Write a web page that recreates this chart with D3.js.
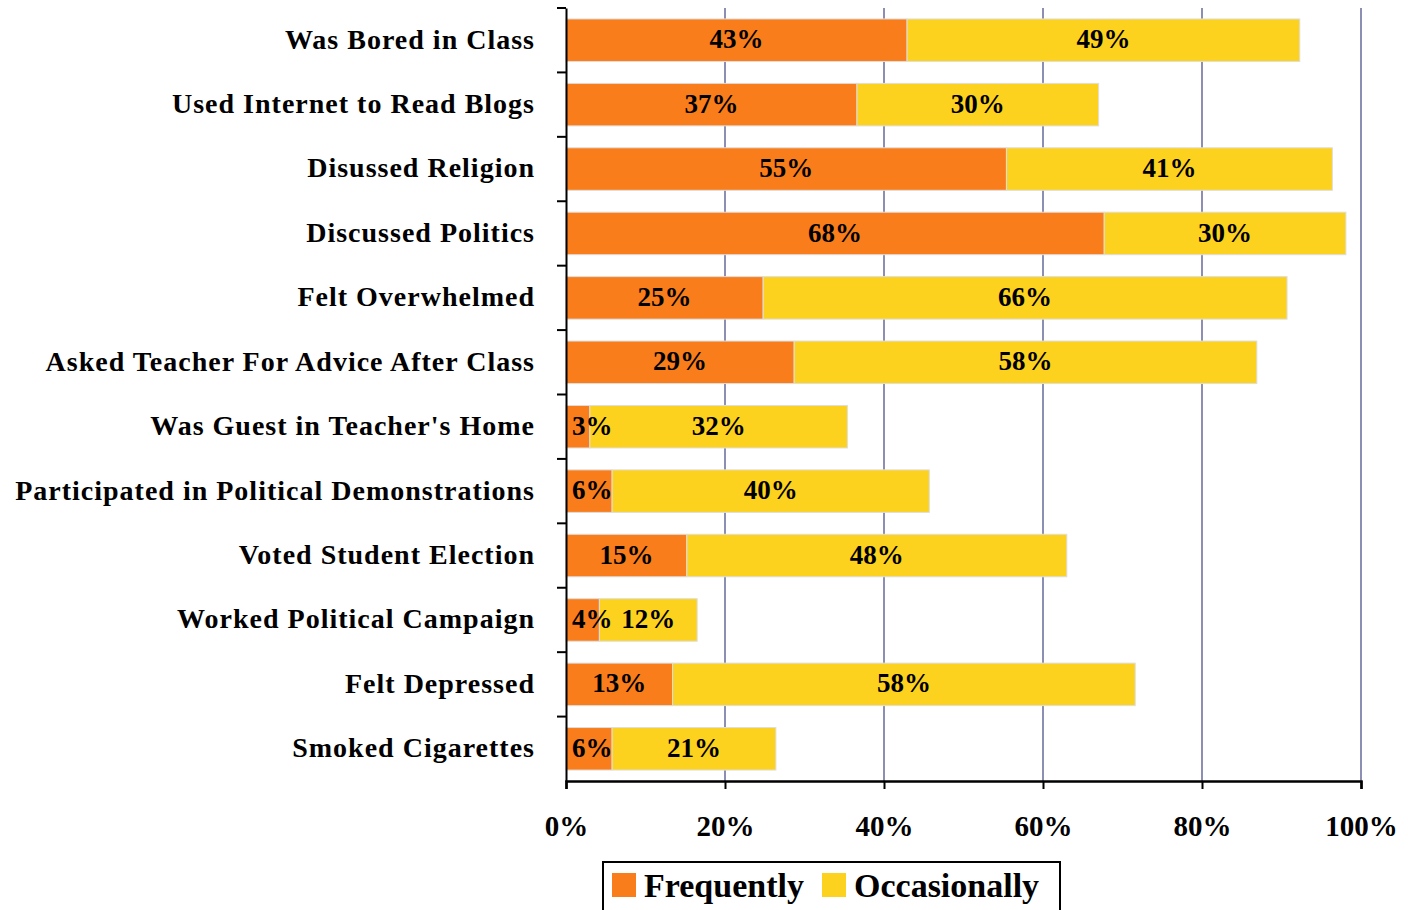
<!DOCTYPE html>
<html>
<head>
<meta charset="utf-8">
<style>
    body { margin: 0; background: #fff; }
    svg { font-family: 'Liberation Serif', 'Times New Roman', serif; font-weight: bold; }
</style>
</head>
<body>
<svg width="1408" height="910"></svg>
<script src="https://d3js.org/d3.v7.min.js"></script>
<script>
    // data (percent)
    let categories = [
        "Was Bored in Class",
        "Used Internet to Read Blogs",
        "Disussed Religion",
        "Discussed Politics",
        "Felt Overwhelmed",
        "Asked Teacher For Advice After Class",
        "Was Guest in Teacher's Home",
        "Participated in Political Demonstrations",
        "Voted Student Election",
        "Worked Political Campaign",
        "Felt Depressed",
        "Smoked Cigarettes"
    ];
    let frequently = [42.9, 36.6, 55.4, 67.7, 24.8, 28.7, 3.0, 5.8, 15.2, 4.2, 13.4, 5.8];
    let occasionally = [49.4, 30.4, 41.0, 30.4, 65.9, 58.2, 32.4, 39.9, 47.8, 12.3, 58.2, 20.6];
    let xTicks = [0, 20, 40, 60, 80, 100];
    let seriesNames = ["Frequently", "Occasionally"];
    let colors = ["#f97d1a", "#fcd21e"];

    let svg = d3.select("svg");
    let margin = {top: 8, right: 47, bottom: 129, left: 566};
    let width = 1408 - margin.left - margin.right;
    let height = 910 - margin.top - margin.bottom;

    let x = d3.scaleLinear().domain([0, 100]).range([0, width]);
    let y = d3.scaleBand().domain(categories).range([0, height]).paddingInner(0.34).paddingOuter(0.17);

    let g = svg.append("g").attr("transform", `translate(${margin.left},${margin.top})`);

    // grid
    g.append("g")
        .selectAll("line")
        .data(xTicks.slice(1))
        .join("line")
        .attr("x1", d => x(d)).attr("x2", d => x(d))
        .attr("y1", 0).attr("y2", height)
        .attr("stroke", "#8c8fb2")
        .attr("stroke-width", 2);

    let rows = categories.map((c, i) => ({cat: c, f: frequently[i], o: occasionally[i]}));
    let stack = d3.stack().keys(["f", "o"])(rows);

    let layers = g.append("g")
        .selectAll("g")
        .data(stack)
        .join("g")
        .attr("fill", (d, i) => colors[i]);

    layers.selectAll("rect")
        .data(d => d)
        .join("rect")
        .attr("x", d => x(d[0]))
        .attr("width", d => x(d[1]) - x(d[0]))
        .attr("y", d => y(d.data.cat))
        .attr("height", y.bandwidth())
        .attr("stroke", "#dedede")
        .attr("stroke-width", 1);

    // value labels
    let labelG = g.append("g").attr("font-size", 27).attr("fill", "#000");
    stack.forEach((layer, li) => {
        layer.forEach(d => {
            let t = labelG.append("text")
                .attr("y", y(d.data.cat) + y.bandwidth() / 2)
                .attr("dy", "0.3em")
                .attr("text-anchor", "middle")
                .text(Math.round(d[1] - d[0]) + "%");
            let w = t.node().getComputedTextLength();
            let cx = (x(d[0]) + x(d[1])) / 2;
            cx = Math.max(cx, x(d[0]) + w / 2 + 6);
            t.attr("x", cx);
        });
    });

    // y axis
    let yAxis = g.append("g")
        .call(d3.axisLeft(y).tickSize(0).tickPadding(31))
        .attr("font-family", null).attr("font-size", 28);
    yAxis.select(".domain").attr("stroke", "#000").attr("stroke-width", 2);
    yAxis.selectAll("text").attr("fill", "#000").attr("dy", "0.3em").attr("letter-spacing", 1);
    // category separators
    let edges = categories.map(c => y(c) - y.step() * y.paddingInner() / 2);
    g.append("g")
        .selectAll("line")
        .data(edges)
        .join("line")
        .attr("x1", -9).attr("x2", 0)
        .attr("y1", d => d).attr("y2", d => d)
        .attr("stroke", "#000").attr("stroke-width", 2);

    // x axis
    let xAxis = g.append("g")
        .attr("transform", `translate(0,${height})`)
        .call(d3.axisBottom(x).tickValues(xTicks).tickFormat(d => d + "%").tickSize(8).tickPadding(26))
        .attr("font-family", null).attr("font-size", 29);
    xAxis.select(".domain").attr("stroke", "#000").attr("stroke-width", 2.5);
    xAxis.selectAll("line").attr("stroke", "#000").attr("stroke-width", 2);
    xAxis.selectAll("text").attr("fill", "#000");

    // legend
    let legend = svg.append("g").attr("transform", "translate(603,862)");
    legend.append("rect")
        .attr("width", 457).attr("height", 60)
        .attr("fill", "#fff").attr("stroke", "#000").attr("stroke-width", 2);
    let itemX = [9, 219];
    seriesNames.forEach((s, i) => {
        let it = legend.append("g").attr("transform", `translate(${itemX[i]},11)`);
        it.append("rect").attr("width", 24).attr("height", 24).attr("fill", colors[i]);
        it.append("text").attr("x", 32).attr("y", 12).attr("dy", "0.35em")
            .attr("font-size", 34).text(s);
    });
</script>
</body>
</html>
